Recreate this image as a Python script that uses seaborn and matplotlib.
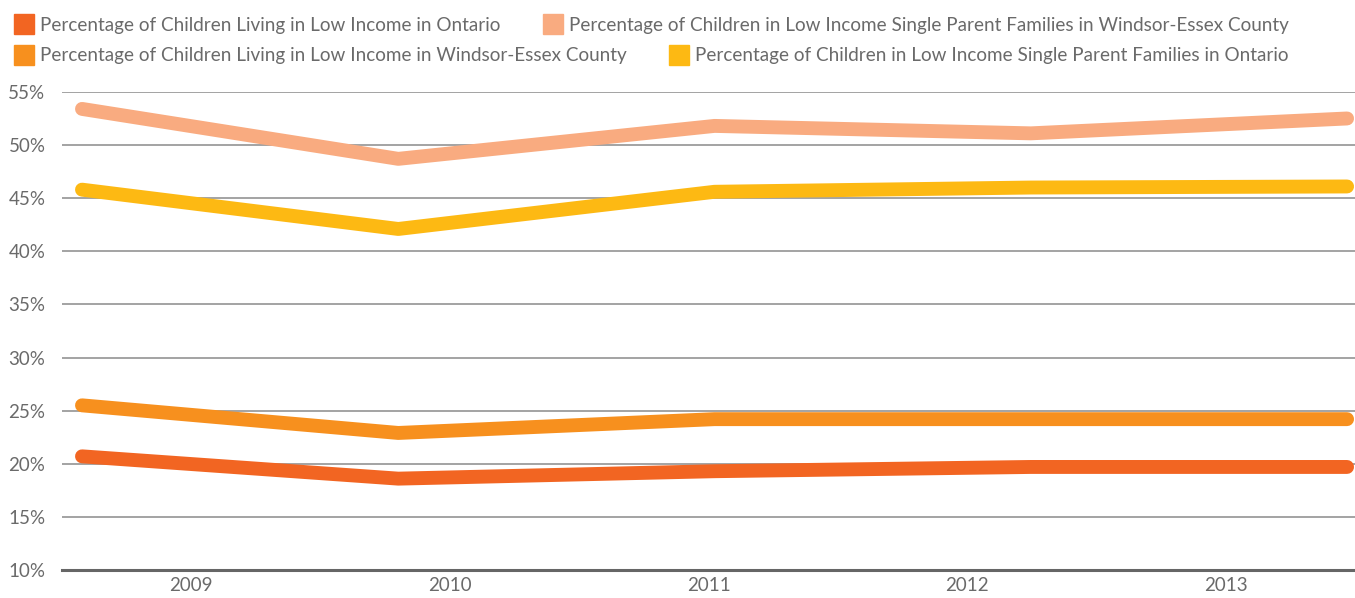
import numpy as np
import pandas as pd
import matplotlib
matplotlib.use("Agg")
import matplotlib.pyplot as plt
import seaborn as sns
from matplotlib.lines import Line2D

years = ["2009", "2010", "2011", "2012", "2013"]
series_names = [
    "Percentage of Children Living in Low Income in Ontario",
    "Percentage of Children Living in Low Income in Windsor-Essex County",
    "Percentage of Children in Low Income Single Parent Families in Windsor-Essex County",
    "Percentage of Children in Low Income Single Parent Families in Ontario",
]
ontario = [20.7, 18.6, 19.3, 19.7, 19.7]
windsor = [25.5, 22.9, 24.2, 24.2, 24.2]
single_windsor = [53.4, 48.7, 51.8, 51.1, 52.5]
single_ontario = [45.8, 42.1, 45.6, 46.0, 46.1]
colors = ["#F26522", "#F7901E", "#F9AB80", "#FDB913"]

rows = []
for name, vals in zip(series_names, [ontario, windsor, single_windsor, single_ontario]):
    for i, v in enumerate(vals):
        rows.append({"idx": i, "Year": years[i], "Series": name, "Value": v})
df = pd.DataFrame(rows)

sns.set_theme(style="white")
plt.rcParams["font.family"] = ["Lato", "DejaVu Sans"]

fig = plt.figure(figsize=(13.55, 5.98), dpi=100)
ax = fig.add_axes([0.0458, 0.0468, 0.9542, 0.7995])

sns.lineplot(data=df, x="idx", y="Value", hue="Series", hue_order=series_names,
             palette=colors, linewidth=10, ax=ax, legend=False,
             solid_capstyle="round", solid_joinstyle="round", zorder=3)

x0, x1 = -0.063, 4.025
ax.set_xlim(x0, x1)
ax.set_ylim(10, 55)
ax.set_yticks(np.arange(10, 56, 5))
ax.set_yticklabels([f"{v}%" for v in range(10, 56, 5)])
# year labels sit at the centres of five equal bands across the axis
ax.set_xticks([x0 + (i + 0.5) / 5 * (x1 - x0) for i in range(len(years))])
ax.set_xticklabels(years)
ax.set_xlabel("")
ax.set_ylabel("")
ax.tick_params(axis="both", length=0, labelsize=13.5, colors="#6a6a6a")
ax.tick_params(axis="y", pad=12)
ax.tick_params(axis="x", pad=5)

ax.grid(axis="y", color="#8a8a8a", linewidth=1.1, zorder=1)
ax.grid(axis="x", visible=False)
for s in ["top", "right", "left"]:
    ax.spines[s].set_visible(False)
ax.spines["bottom"].set_color("#666666")
ax.spines["bottom"].set_linewidth(2.2)


def legend_row(idxs, y):
    handles = [Line2D([], [], marker="s", linestyle="none", markersize=14,
                      markerfacecolor=colors[i], markeredgecolor=colors[i])
               for i in idxs]
    fig.legend(handles, [series_names[i] for i in idxs], ncol=2,
               loc="center left", bbox_to_anchor=(14 / 1355, 1 - y / 598),
               frameon=False, fontsize=13.6, labelcolor="#6a6a6a",
               handletextpad=0.3, columnspacing=2.2, borderpad=0,
               borderaxespad=0, handlelength=1.1)


legend_row([0, 2], 25)
legend_row([1, 3], 56)

fig.savefig("out.png", dpi=100)
